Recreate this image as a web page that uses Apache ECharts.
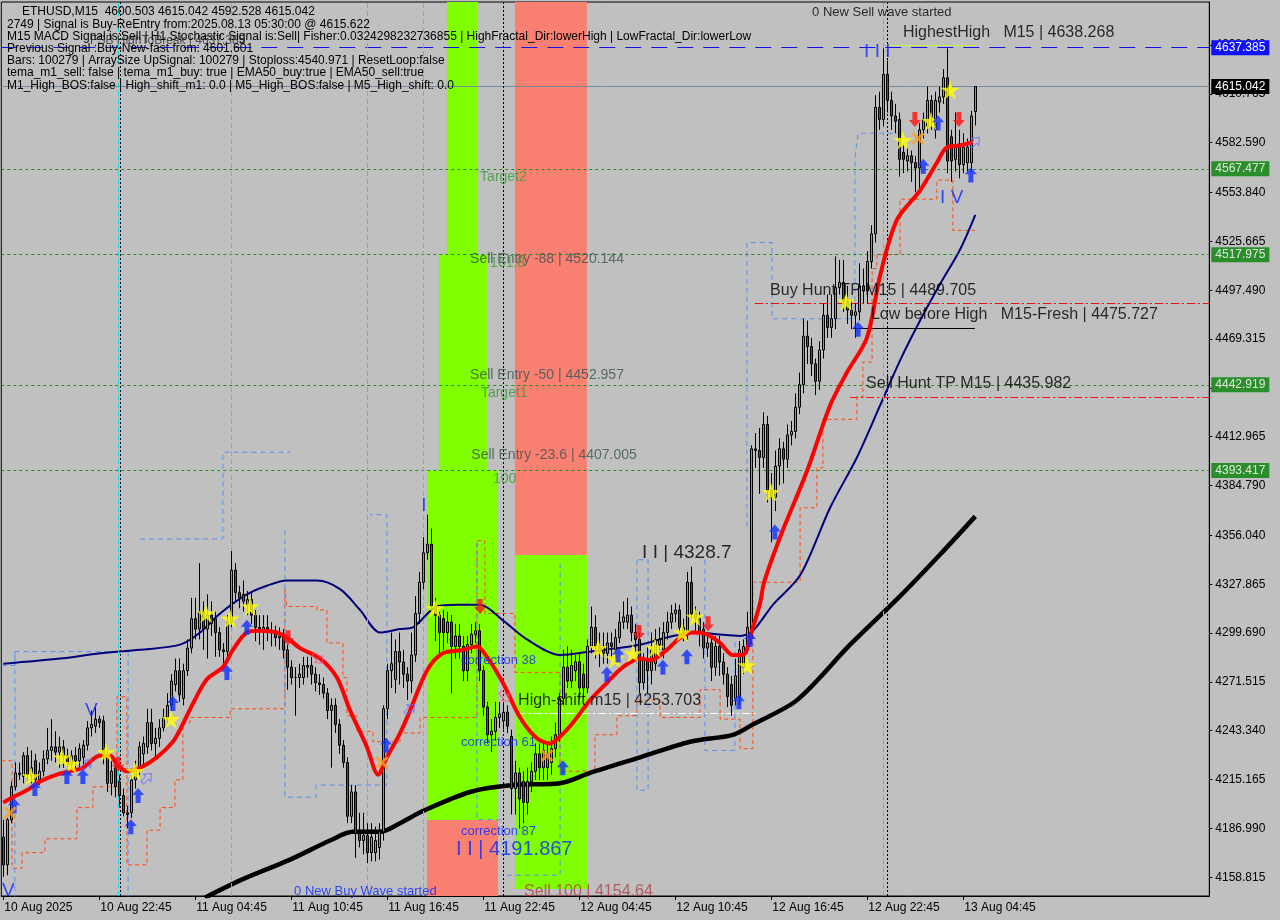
<!DOCTYPE html>
<html><head><meta charset="utf-8">
<script src="https://cdn.jsdelivr.net/npm/echarts/dist/echarts.min.js"></script>
<style>html,body{margin:0;padding:0;background:#c0c0c0;}#c{width:1280px;height:920px;}</style>
</head><body><div id="c"></div>
<script>
// ---------- DATA ----------
const xTickBars = [0,24,48,72,96,120,144,168,192,216,240];
const xTickLabels = ['10 Aug 2025','10 Aug 22:45','11 Aug 04:45','11 Aug 10:45','11 Aug 16:45','11 Aug 22:45','12 Aug 04:45','12 Aug 10:45','12 Aug 16:45','12 Aug 22:45','13 Aug 04:45'];
const yTicks = [4158.815,4186.990,4215.165,4243.340,4271.515,4299.690,4327.865,4356.040,4384.790,4412.965,4441.140,4469.315,4497.490,4525.665,4553.840,4582.590,4610.765,4638.940];
const Y_MIN = 4148.0, Y_MAX = 4663.75;
const SLOTS = 302;

// [open, close, low, high] per M15 bar
const candles = [
[4182,4166,4159,4192],[4166,4192,4160,4193],[4192,4211,4190,4214],[4211,4219,4209,4225],[4219,4218,4215,4225],
[4217,4229,4213,4231],[4229,4218,4214,4234],[4218,4222,4213,4232],[4226,4215,4211,4230],[4215,4220,4212,4225],
[4220,4227,4217,4232],[4227,4232,4224,4245],[4232,4234,4226,4250],[4234,4231,4225,4243],[4231,4234,4222,4240],
[4234,4229,4222,4238],[4229,4224,4218,4233],[4224,4229,4220,4232],[4229,4226,4220,4234],[4226,4233,4222,4236],
[4228,4235,4224,4238],[4235,4245,4232,4249],[4245,4247,4240,4255],[4246,4250,4242,4257],[4250,4248,4245,4252],
[4249,4228,4224,4252],[4228,4213,4208,4232],[4213,4220,4206,4226],[4222,4211,4205,4226],[4214,4206,4199,4218],
[4206,4196,4194,4210],[4196,4195,4187,4200],[4196,4215,4193,4218],[4215,4222,4210,4226],[4222,4234,4218,4237],
[4230,4236,4222,4240],[4234,4248,4230,4256],[4248,4236,4232,4256],[4236,4239,4228,4245],[4239,4245,4234,4250],
[4245,4251,4243,4256],[4251,4258,4248,4265],[4258,4272,4255,4276],[4270,4278,4266,4285],[4278,4264,4260,4285],
[4262,4278,4258,4282],[4278,4291,4275,4296],[4291,4308,4288,4320],[4308,4302,4296,4320],[4302,4312,4296,4340],
[4312,4302,4290,4318],[4302,4310,4285,4322],[4310,4305,4298,4318],[4308,4300,4286,4312],[4300,4290,4286,4303],
[4290,4289,4282,4294],[4289,4306,4285,4310],[4306,4336,4303,4347],[4336,4323,4318,4340],[4323,4320,4314,4327],
[4322,4318,4312,4330],[4316,4319,4310,4324],[4319,4310,4305,4323],[4310,4303,4295,4313],[4303,4302,4293,4310],
[4301,4303,4290,4310],[4303,4301,4295,4310],[4301,4300,4292,4306],[4300,4297,4292,4304],[4297,4298,4290,4303],
[4298,4290,4285,4302],[4290,4280,4267,4293],[4280,4274,4270,4284],[4274,4274,4252,4280],[4274,4276,4268,4282],
[4274,4281,4270,4286],[4281,4280,4274,4286],[4281,4276,4270,4286],[4276,4271,4266,4280],[4271,4270,4264,4276],
[4270,4265,4262,4274],[4265,4255,4250,4268],[4255,4258,4222,4262],[4258,4247,4242,4262],[4247,4235,4230,4250],
[4235,4225,4222,4238],[4225,4194,4190,4228],[4194,4208,4190,4212],[4208,4184,4170,4212],[4184,4180,4176,4196],
[4180,4183,4172,4196],[4183,4173,4167,4190],[4173,4182,4168,4190],[4173,4180,4168,4188],[4176,4185,4169,4190],
[4185,4256,4180,4258],[4256,4278,4250,4282],[4278,4282,4268,4300],[4273,4289,4265,4296],[4289,4283,4270,4300],
[4283,4276,4268,4290],[4276,4272,4261,4280],[4272,4287,4265,4300],[4287,4311,4283,4321],[4311,4329,4305,4335],
[4329,4346,4325,4355],[4346,4351,4342,4368],[4351,4315,4312,4360],[4315,4310,4295,4320],[4310,4300,4288,4312],
[4308,4300,4290,4313],[4300,4306,4294,4312],[4306,4292,4265,4310],[4292,4298,4285,4305],[4298,4292,4285,4305],
[4292,4278,4272,4298],[4278,4293,4272,4298],[4293,4299,4288,4305],[4299,4301,4294,4306],[4301,4278,4272,4305],
[4278,4257,4252,4281],[4257,4241,4236,4260],[4241,4243,4231,4250],[4243,4251,4238,4260],[4251,4253,4245,4260],
[4249,4254,4244,4260],[4254,4246,4242,4258],[4240,4210,4195,4244],[4210,4219,4195,4226],[4219,4204,4187,4222],
[4214,4202,4190,4220],[4202,4214,4195,4222],[4214,4220,4208,4225],[4220,4230,4215,4236],[4230,4222,4215,4236],
[4222,4232,4215,4238],[4222,4230,4215,4236],[4225,4233,4218,4240],[4233,4241,4228,4248],[4241,4262,4237,4265],
[4262,4280,4258,4290],[4280,4272,4268,4292],[4272,4281,4268,4290],[4278,4283,4272,4287],[4283,4268,4262,4288],
[4276,4268,4262,4282],[4268,4292,4265,4296],[4292,4303,4288,4315],[4303,4292,4285,4310],[4292,4289,4280,4300],
[4292,4288,4282,4300],[4288,4294,4282,4300],[4294,4292,4285,4300],[4290,4297,4285,4302],[4297,4306,4294,4312],
[4306,4309,4302,4318],[4306,4310,4302,4320],[4310,4300,4295,4315],[4300,4296,4288,4305],[4296,4271,4265,4300],
[4271,4284,4267,4288],[4284,4278,4265,4292],[4278,4290,4270,4300],[4282,4296,4278,4302],[4293,4296,4290,4303],
[4290,4300,4285,4306],[4300,4306,4296,4312],[4306,4311,4302,4316],[4311,4313,4306,4317],[4313,4303,4298,4316],
[4303,4300,4295,4308],[4300,4329,4296,4335],[4329,4311,4308,4338],[4311,4308,4300,4315],[4308,4300,4292,4312],
[4302,4291,4285,4306],[4291,4294,4286,4300],[4294,4280,4272,4298],[4280,4292,4275,4298],[4292,4283,4275,4298],
[4283,4276,4270,4288],[4276,4263,4257,4280],[4270,4258,4252,4275],[4262,4275,4258,4285],[4263,4290,4258,4295],
[4280,4292,4276,4296],[4290,4303,4288,4312],[4297,4406,4293,4408],[4406,4405,4395,4415],[4405,4401,4380,4418],
[4401,4420,4395,4427],[4420,4382,4375,4425],[4382,4378,4352,4392],[4378,4396,4370,4405],[4396,4406,4385,4412],
[4406,4400,4386,4410],[4400,4414,4395,4420],[4414,4416,4408,4422],[4416,4430,4412,4438],[4430,4443,4426,4450],
[4443,4471,4438,4481],[4471,4465,4455,4480],[4465,4455,4448,4470],[4455,4445,4437,4458],[4445,4463,4440,4468],
[4463,4483,4458,4490],[4483,4476,4470,4495],[4476,4481,4470,4495],[4481,4499,4475,4517],[4499,4502,4495,4515],
[4502,4491,4485,4515],[4491,4486,4478,4500],[4486,4483,4475,4492],[4483,4485,4470,4490],[4485,4500,4480,4513],
[4500,4497,4490,4510],[4497,4514,4490,4520],[4514,4530,4510,4535],[4530,4603,4525,4610],[4603,4596,4590,4612],
[4596,4622,4592,4637],[4622,4607,4600,4630],[4607,4598,4590,4612],[4598,4595,4588,4605],[4596,4573,4563,4600],
[4577,4573,4565,4582],[4572,4575,4566,4580],[4575,4571,4560,4578],[4571,4568,4554,4575],[4568,4590,4556,4594],
[4590,4596,4585,4600],[4592,4607,4588,4615],[4607,4597,4590,4610],[4590,4607,4585,4612],[4606,4609,4600,4615],
[4609,4620,4605,4625],[4620,4572,4565,4637],[4586,4572,4560,4590],[4573,4581,4566,4600],[4582,4570,4562,4590],
[4570,4580,4565,4588],[4571,4580,4566,4585],[4571,4598,4566,4601],[4600.503,4615.042,4592.528,4615.042]
];

// fast EMA (red), EMA50 (navy), slow MA (black): [bar, price] read points
const emaFast = [[0,4202],[2.4,4205],[5.9,4209],[9.2,4214],[13.4,4218],[16.7,4220],[19.9,4222],[24.2,4229],[26.7,4229],[28.4,4224],[30.9,4220],[34.2,4222],[38.4,4228],[42.4,4237],[44.2,4244],[47.4,4259],[50.9,4273],[54.9,4280],[57.4,4290],[60.9,4300],[64.2,4301],[68.4,4300],[70.9,4297],[74.2,4291],[79.2,4285],[83.4,4274],[86.7,4255],[90.9,4234],[93.7,4218],[95.9,4228],[99.2,4242],[101.7,4255],[105.9,4278],[109.9,4288],[114.9,4290],[118.4,4292],[120.9,4286],[124.9,4271],[129.2,4251],[133.4,4239],[136.7,4236],[139.2,4240],[142.4,4248],[146.7,4261],[150.9,4271],[154.9,4280],[159.2,4285],[161.7,4284],[165.9,4290],[169.2,4297],[172.4,4300],[175.9,4299],[179.2,4294],[182.4,4287],[184.9,4287],[187.4,4303],[189.2,4317],[190.2,4329],[194.2,4355],[200.9,4393],[206.7,4431],[210.9,4450],[215.9,4470],[219.2,4506],[223.4,4538],[229.2,4555],[233.4,4571],[235.9,4580],[239.2,4581],[242.4,4583]];
const ema50 = [[0,4282],[14.2,4285],[24.2,4288],[34.2,4290],[44.2,4293],[49.2,4300],[54.2,4311],[60.9,4322],[65.9,4327],[70.9,4330],[78.4,4330],[84.2,4325],[89.2,4313],[94.2,4300],[99.2,4302],[102.4,4303],[108.4,4315],[113.4,4316],[119.2,4316],[124.9,4307],[130.9,4296],[139.2,4287],[146.7,4289],[153.4,4291],[159.2,4293],[167.4,4298],[173.4,4300],[178.4,4299],[184.2,4298],[187.4,4301],[192.4,4316],[199.2,4333],[206.7,4372],[213.4,4401],[219.2,4431],[224.2,4457],[229.2,4480],[234.2,4501],[239.2,4521],[243,4541]];
const maSlow = [[50.4,4147],[59.2,4157],[71.7,4169],[81.7,4180],[87.4,4185],[94.2,4185],[99.2,4190],[104.9,4197],[116.7,4208],[127.4,4212],[139.2,4213],[146.7,4219],[159.2,4228],[171.7,4237],[182.4,4241],[187.4,4247],[198.4,4261],[211.7,4293],[224.2,4321],[234.2,4345],[243,4367]];

// stepped envelopes (thin dashed)
const orangeBand = [[-0.5,4226],[2.2,4226],[2.2,4164],[4.7,4164],[4.7,4173],[10.4,4173],[10.4,4181],[18.4,4181],[18.4,4199],[22.4,4199],[22.4,4211],[28.4,4211],[28.4,4263],[30.9,4263],[30.9,4166],[35.9,4166],[35.9,4186],[39.2,4186],[39.2,4199],[42.9,4199],[42.9,4215],[44.9,4215],[44.9,4248],[46.7,4248],[46.7,4251],[56.7,4251],[56.7,4256],[70.4,4256],[70.4,4326],[70.9,4315],[78.4,4315],[78.4,4313],[80.9,4313],[80.9,4294],[84.9,4294],[84.9,4274],[85.9,4274],[85.9,4252],[88.4,4252],[88.4,4243],[92.4,4243],[92.4,4237],[99.2,4237],[99.2,4242],[104.2,4242],[104.2,4251],[118.4,4251],[118.4,4353],[120.4,4353],[120.4,4311],[127.9,4311],[127.9,4277],[139.2,4277],[139.2,4220],[147.9,4220],[147.9,4241],[153.4,4241],[153.4,4252],[158.4,4252],[158.4,4261],[164.2,4261],[164.2,4251],[174.2,4251],[174.2,4267],[179.2,4267],[179.2,4250],[184.2,4250],[184.2,4233],[187.4,4233],[187.4,4329],[199.2,4329],[199.2,4372],[203.4,4372],[203.4,4395],[204.9,4395],[204.9,4423],[213.4,4423],[213.4,4436],[214.9,4436],[214.9,4456],[217.2,4456],[217.2,4510],[218.4,4510],[218.4,4518],[224.2,4518],[224.2,4550],[233.4,4550],[233.4,4561],[237.4,4561],[237.4,4532],[242.9,4532]];
const blueBandSegments = [
 [[-0.5,4281],[2.9,4281],[2.9,4289],[28.4,4289]],
 [[2.9,4289],[2.9,4147.5]],
 [[31.2,4289],[31.2,4147.5]],
 [[34.2,4354],[54.9,4354],[54.9,4404],[71.7,4404]],
 [[70.4,4359],[70.4,4205],[78.2,4205],[78.2,4212],[95.9,4212],[95.9,4368],[91.7,4368]],
 [[118.4,4352],[118.4,4192],[124.9,4192]],
 [[125.9,4160],[139.2,4160],[139.2,4342]],
 [[158.4,4342],[158.4,4209],[161.2,4209],[161.2,4342],[158.4,4342]],
 [[175.4,4342],[175.4,4232],[182.9,4232],[182.9,4296]],
 [[185.9,4361],[185.9,4525],[192.2,4525],[192.2,4481],[212.9,4481],[212.9,4574],[213.7,4588],[224.2,4588]]
];

// signal markers [bar, price]
const stars = [[6.9,4217],[14.7,4228],[16.9,4224],[25.7,4231],[32.9,4220],[41.9,4250],[50.7,4311],[56.7,4308],[61.7,4315],[107.9,4314],[148.7,4291],[152.9,4285],[157.4,4288],[162.9,4291],[169.7,4300],[172.9,4309],[185.9,4281],[191.9,4381],[210.7,4491],[224.9,4584],[231.9,4595],[236.7,4613]];
const upArrows = [[2.7,4200],[7.9,4210],[15.9,4217],[19.9,4217],[31.9,4188],[33.7,4206],[42.4,4259],[55.9,4277],[60.9,4303],[95.7,4235],[139.9,4222],[150.9,4276],[153.7,4287],[164.9,4280],[170.9,4286],[183.9,4260],[186.7,4296],[192.9,4358],[213.7,4475],[230,4569],[233.7,4594],[241.9,4564]];
const downArrows = [[28.7,4224],[71.2,4297],[119.2,4315],[158.9,4300],[176.2,4305],[227.9,4596],[238.9,4596]];
const crosses = [[1.7,4196],[94.7,4225],[135.9,4229],[228.7,4585]];
const hollowUp = [[20.9,4224],[35.9,4216],[101.7,4256],[242.9,4583]];
const hollowDown = [[78.7,4285],[125.4,4263]];

// price levels
const levelHighestHigh = 4637.385;
const levelBid = 4615.042;
const targetLevels = [4567.477, 4517.975, 4442.919, 4393.417];
const buyHuntTP = 4489.705, sellHuntTP = 4435.982, lowBeforeHigh = 4475.727, highShift = 4253.703, highestLine = 4639.0;
const vlinesCyan = [28.7, 91], vlinesPink = [57, 105, 220], vlinesBlack = [29.2, 125, 221];

// zones: [barFrom, barTo, priceTop, priceBottom]
const greenZones = [[110.9,118.7,Y_MAX,4518.0],[108.9,120.9,4518.0,4393.417],[105.9,123.7,4393.417,4191.867],[127.9,145.9,4344.7,4152.0]];
const salmonZones = [[105.9,123.7,4191.867,Y_MIN],[127.9,145.9,Y_MAX,4344.7]];

// annotations [text, bar, price, style]
const notes = [
 ['0 New Sell wave started',202.2,4658,'note'],
 ['HighestHigh   M15 | 4638.268',224.9,4645.9,'big'],
 ['I I I',215.2,4635,'blueBig'],
 ['I V',234.2,4550.7,'blueBig'],
 ['Target2',119.2,4562.8,'green'],
 ['Sell Entry -88 | 4520.144',116.7,4515.5,'entry'],
 ['161.8',121.7,4513.2,'green'],
 ['Buy Hunt TP M15 | 4489.705',191.7,4497,'big'],
 ['Low before High   M15-Fresh | 4475.727',216.9,4483.2,'big'],
 ['Sell Entry -50 | 4452.957',116.7,4448.6,'entry'],
 ['Target1',119.4,4438.2,'green'],
 ['Sell Hunt TP M15 | 4435.982',215.7,4443.4,'big'],
 ['Sell Entry -23.6 | 4407.005',117,4402.4,'entry'],
 ['100',122.4,4388.6,'green'],
 ['I I | 4328.7',159.7,4345.9,'huge'],
 ['correction 38',114.4,4284.1,'blueSmall'],
 ['High-shift m15 | 4253.703',128.7,4261,'big'],
 ['correction 61',114.4,4236.8,'blueSmall'],
 ['correction 87',114.4,4185.5,'blueSmall'],
 ['I I | 4191.867',113.2,4175.1,'blueHuge'],
 ['0 New Buy Wave started',72.7,4150.9,'blueSmall'],
 ['Sell 100 | 4154.64',130.2,4150.3,'sell'],
 ['V',20.4,4255,'blueBig'],
 ['V',-0.3,4151,'blueBig'],
 ['I',104.5,4373,'blueBig'],
 ['FSB HighToBreak | 4637.385',21.7,4641.5,'fsb']
];

const infoLines = [
 ['ETHUSD,M15  4600.503 4615.042 4592.528 4615.042', 22],
 ['2749 | Signal is Buy-ReEntry from:2025.08.13 05:30:00 @ 4615.622', 7],
 ['M15 MACD Signal is:Sell | H1 Stochastic Signal is:Sell| Fisher:0.0324298232736855 | HighFractal_Dir:lowerHigh | LowFractal_Dir:lowerLow', 7],
 ['Previous Signal :Buy-New-fast from: 4601.601', 7],
 ['Bars: 100279 | ArraySize UpSignal: 100279 | Stoploss:4540.971 | ResetLoop:false', 7],
 ['tema_m1_sell: false | tema_m1_buy: true | EMA50_buy:true | EMA50_sell:true', 7],
 ['M1_High_BOS:false | High_shift_m1: 0.0 | M5_High_BOS:false | M5_High_shift: 0.0', 7]
];

// ---------- STYLES ----------
const FONT = '"Liberation Sans", Arial, sans-serif';
const noteStyles = {
 note:{color:'#000',fontSize:13},
 big:{color:'#000',fontSize:16},
 huge:{color:'#000',fontSize:19},
 blueBig:{color:'#0a28ff',fontSize:19},
 blueHuge:{color:'#0a28ff',fontSize:20},
 blueSmall:{color:'#0a28ff',fontSize:13},
 green:{color:'#3a9a3a',fontSize:14},
 entry:{color:'#3a5454',fontSize:14},
 sell:{color:'#b0404a',fontSize:16},
 fsb:{color:'#303030',fontSize:12}
};
const STAR = 'path://M50,0 L61,35 L98,35 L68,57 L79,91 L50,70 L21,91 L32,57 L2,35 L39,35 Z';
const ARROW_UP = 'path://M6,0 L12,6 L8.5,6 L8.5,13 L3.5,13 L3.5,6 L0,6 Z';
const ARROW_DN = 'path://M3.5,0 L8.5,0 L8.5,7 L12,7 L6,13 L0,7 L3.5,7 Z';
const CROSS = 'path://M0,2 L2,0 L6,4 L10,0 L12,2 L8,6 L12,10 L10,12 L6,8 L2,12 L0,10 L4,6 Z';

// ---------- CHART ----------
const chart = echarts.init(document.getElementById('c'), null, {renderer:'canvas'});

const levelLabel = (txt, bg, fg) => ({show:true, position:'end', distance:2, formatter:txt, backgroundColor:bg, color:fg, padding:[2,4,1,4], fontFamily:FONT, fontSize:12});

const markLineData = [
 {yAxis:levelHighestHigh, lineStyle:{color:'#1414e6',type:[16,10],width:1}, label:levelLabel(levelHighestHigh.toFixed(3),'#1010ff','#ffffff')},
 {yAxis:levelBid, lineStyle:{color:'#7a8a9a',type:'solid',width:1}, label:levelLabel(levelBid.toFixed(3),'#000000','#ffffff')}
];
targetLevels.forEach(v => markLineData.push({yAxis:v, lineStyle:{color:'#1f8f1f',type:[3,3],width:1}, label:levelLabel(v.toFixed(3),'#2a8f2a','#dfe9df')}));
const seg = (x1,x2,y,style) => [{coord:[x1,y], lineStyle:style, label:{show:false}},{coord:[x2,y]}];
markLineData.push(seg(187.9,301.5,buyHuntTP,{color:'#e01010',type:[8,3,2,3],width:1}));
markLineData.push(seg(211.7,301.5,sellHuntTP,{color:'#ff1010',type:[8,3,2,3],width:1}));
markLineData.push(seg(212.4,242.9,lowBeforeHigh,{color:'#000',type:'solid',width:1}));
markLineData.push(seg(128.7,188.4,highShift,{color:'#ffffff',type:[8,3,2,3],width:1}));
markLineData.push(seg(220.9,242.9,highestLine,{color:'#c8f040',type:'solid',width:1}));
vlinesCyan.forEach(v => markLineData.push({xAxis:v, lineStyle:{color:'#10d8f0',type:[5,3],width:1}, label:{show:false}}));
vlinesPink.forEach(v => markLineData.push({xAxis:v, lineStyle:{color:'#ff6eb4',type:[5,3],width:1}, label:{show:false}}));
vlinesBlack.forEach(v => markLineData.push({xAxis:v, lineStyle:{color:'#000',type:[2,2],width:1}, label:{show:false}}));

const areaData = [];
greenZones.forEach(z => areaData.push([{coord:[z[0],z[2]], itemStyle:{color:'#80ff00'}},{coord:[z[1],z[3]]}]));
salmonZones.forEach(z => areaData.push([{coord:[z[0],z[2]], itemStyle:{color:'#fa8072'}},{coord:[z[1],z[3]]}]));

const series = [];
series.push({type:'line', data:[], silent:true, z:1, markArea:{silent:true, data:areaData, label:{show:false}}});
series.push({type:'line', data:orangeBand, symbol:'none', silent:true, z:2, lineStyle:{color:'#ff4a10',width:1,type:[4,3]}, clip:true});
blueBandSegments.forEach(s => series.push({type:'line', data:s, symbol:'none', silent:true, z:2, lineStyle:{color:'#5a8ff0',width:1,type:[5,4]}, clip:true}));
series.push({type:'line', data:maSlow, symbol:'none', smooth:0.3, silent:true, z:4, lineStyle:{color:'#000',width:4.5}, clip:true});
series.push({type:'line', data:ema50, symbol:'none', smooth:0.3, silent:true, z:4, lineStyle:{color:'#00007a',width:2}, clip:true});
series.push({type:'candlestick', z:5, barWidth:3,
  data:candles.map((c,i)=>[i,c[0],c[1],c[2],c[3]]),
  itemStyle:{color:'#2fcc70',color0:'#b02a35',borderColor:'#000',borderColor0:'#000',borderWidth:1},
  markLine:{silent:true, symbol:['none','none'], animation:false, data:markLineData}
});
series.push({type:'line', data:emaFast, symbol:'none', smooth:0.3, silent:true, z:6, lineStyle:{color:'#ff0000',width:4}, clip:true});
series.push({type:'scatter', data:stars, symbol:STAR, symbolSize:19, z:7, silent:true, itemStyle:{color:'#ffff00'}});
series.push({type:'scatter', data:upArrows, symbol:ARROW_UP, symbolSize:[12,15], z:7, silent:true, itemStyle:{color:'#1030ff'}});
series.push({type:'scatter', data:downArrows, symbol:ARROW_DN, symbolSize:[12,15], z:7, silent:true, itemStyle:{color:'#ff1010'}});
series.push({type:'scatter', data:crosses, symbol:CROSS, symbolSize:13, z:7, silent:true, itemStyle:{color:'#ffa020'}});
series.push({type:'scatter', data:hollowUp, symbol:ARROW_UP, symbolRotate:-45, symbolSize:[10,13], z:7, silent:true, itemStyle:{color:'rgba(0,0,0,0)',borderColor:'#6a6aff',borderWidth:1}});
series.push({type:'scatter', data:hollowDown, symbol:ARROW_DN, symbolRotate:45, symbolSize:[10,13], z:7, silent:true, itemStyle:{color:'rgba(0,0,0,0)',borderColor:'#ff5080',borderWidth:1}});
series.push({type:'scatter', symbolSize:0, z:8, silent:true,
  data:notes.map(n => ({value:[n[1],n[2]], label:Object.assign({show:true, position:'right', distance:0, formatter:n[0], fontFamily:FONT}, noteStyles[n[3]])}))
});

const graphics = infoLines.map((l,i) => ({type:'text', left:l[1], top:6+i*12.2, z:100, silent:true,
  style:{text:l[0], fill:'#000', font:'12px "Liberation Sans", Arial, sans-serif'}}));

chart.setOption({
  backgroundColor:'#c0c0c0',
  animation:false,
  grid:{left:1.3, right:70.7, top:2, bottom:24, show:true, borderColor:'#000', borderWidth:1},
  xAxis:{type:'value', min:-0.5, max:SLOTS-0.5,
    axisLine:{show:true,onZero:false,lineStyle:{color:'#000',width:1}},
    axisTick:{show:true, customValues:xTickBars, length:4, lineStyle:{color:'#000'}},
    axisLabel:{customValues:xTickBars, formatter:v => xTickLabels[Math.round(v/24)], align:'left', color:'#000', fontFamily:FONT, fontSize:12, margin:6, padding:[0,0,0,1]},
    splitLine:{show:false}},
  yAxis:{type:'value', position:'right', min:Y_MIN, max:Y_MAX, scale:true,
    axisLine:{show:true,onZero:false,lineStyle:{color:'#000',width:1}},
    axisTick:{show:true, customValues:yTicks, length:3, lineStyle:{color:'#000'}},
    axisLabel:{customValues:yTicks, formatter:v => v.toFixed(3), color:'#000', fontFamily:FONT, fontSize:12, margin:6},
    splitLine:{show:false}},
  graphic:graphics,
  series:series
});
</script>
</body></html>
